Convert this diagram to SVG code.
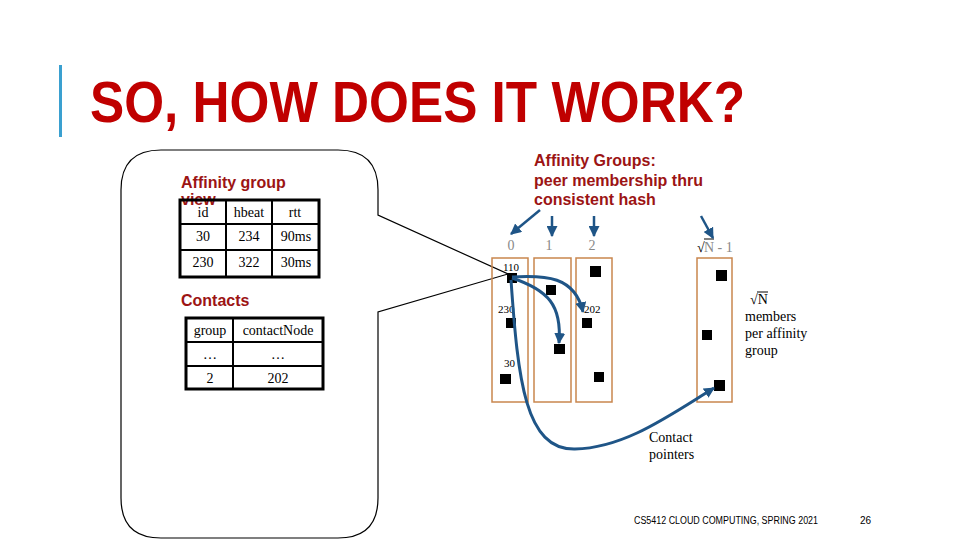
<svg xmlns="http://www.w3.org/2000/svg" width="960" height="540" viewBox="0 0 960 540">
<defs>
<marker id="ah" viewBox="0 0 10 10" refX="9" refY="5" markerWidth="11" markerHeight="11" markerUnits="userSpaceOnUse" orient="auto">
<path d="M0,0 L10,5 L0,10 Z" fill="#1F5587"/>
</marker>
<style>
.lbl{font-family:"Liberation Sans",Arial,sans-serif;font-weight:bold;font-size:16px;fill:#9C1414}
.cell{font-family:"Liberation Serif","Times New Roman",serif;font-size:14px;fill:#000;text-anchor:middle}
.tbl{fill:none;stroke:#000;stroke-width:3}
.tl{stroke:#000;stroke-width:2}
.grp{fill:none;stroke:#C9864E;stroke-width:1.5}
.sq{fill:#000}
.idx{font-family:"Liberation Serif","Times New Roman",serif;font-size:14px;fill:#888;text-anchor:middle}
.small{font-family:"Liberation Serif","Times New Roman",serif;font-size:11px;fill:#000}
.txt{font-family:"Liberation Serif","Times New Roman",serif;font-size:14px;fill:#000}
.arr{fill:none;stroke:#1F5587;stroke-width:3;marker-end:url(#ah)}
.arr2{fill:none;stroke:#1F5587;stroke-width:2.5;marker-end:url(#ah)}
</style>
</defs>
<rect width="960" height="540" fill="#fff"/>

<g id="title">
<rect x="59" y="65" width="3" height="72" fill="#3AA0D0"/>
<text x="90" y="122" font-family="'Liberation Sans',Arial,sans-serif" font-weight="bold" font-size="58" fill="#C00000" textLength="655" lengthAdjust="spacingAndGlyphs">SO, HOW DOES IT WORK?</text>
</g>

<g id="callout">
<path d="M161,150 H338 Q378,150 378,190 V215 L508,274 L378,312 V498 Q378,538 338,538 H161 Q121,538 121,498 V190 Q121,150 161,150 Z" fill="none" stroke="#000" stroke-width="1.2"/>
</g>

<g id="affinity-view">
<text class="lbl" x="181" y="188">Affinity group</text>
<text class="lbl" x="181" y="205">view</text>
<rect class="tbl" x="180" y="200" width="139" height="77"/>
<line class="tl" x1="180" y1="224" x2="319" y2="224"/>
<line class="tl" x1="180" y1="250" x2="319" y2="250"/>
<line class="tl" x1="226" y1="200" x2="226" y2="277"/>
<line class="tl" x1="272" y1="200" x2="272" y2="277"/>
<text class="cell" x="203" y="217">id</text>
<text class="cell" x="249" y="217">hbeat</text>
<text class="cell" x="295" y="217">rtt</text>
<text class="cell" x="203" y="241">30</text>
<text class="cell" x="249" y="241">234</text>
<text class="cell" x="296" y="241">90ms</text>
<text class="cell" x="203" y="267">230</text>
<text class="cell" x="249" y="267">322</text>
<text class="cell" x="296" y="267">30ms</text>
</g>

<g id="contacts">
<text class="lbl" x="181" y="306">Contacts</text>
<rect class="tbl" x="186" y="318" width="137" height="71"/>
<line class="tl" x1="186" y1="342" x2="323" y2="342"/>
<line class="tl" x1="186" y1="366" x2="323" y2="366"/>
<line class="tl" x1="233" y1="318" x2="233" y2="389"/>
<text class="cell" x="210" y="335">group</text>
<text class="cell" x="278" y="335">contactNode</text>
<text class="cell" x="210" y="359">…</text>
<text class="cell" x="278" y="359">…</text>
<text class="cell" x="210" y="383">2</text>
<text class="cell" x="278" y="383">202</text>
</g>

<g id="groups-label">
<text class="lbl" x="534" y="166">Affinity Groups:</text>
<text class="lbl" x="534" y="186">peer membership thru</text>
<text class="lbl" x="534" y="205">consistent hash</text>
</g>

<g id="group0">
<text class="idx" x="511" y="250">0</text>
<rect class="grp" x="492" y="258" width="36" height="144"/>
<rect class="sq" x="507" y="273" width="10" height="10"/>
<text class="small" x="503" y="271">110</text>
<rect class="sq" x="506" y="318" width="10" height="10"/>
<text class="small" x="498" y="313">230</text>
<rect class="sq" x="500" y="374" width="11" height="10"/>
<text class="small" x="504" y="367">30</text>
</g>

<g id="group1">
<text class="idx" x="549" y="250">1</text>
<rect class="grp" x="534" y="258" width="37" height="144"/>
<rect class="sq" x="546" y="285" width="10" height="10"/>
<rect class="sq" x="554" y="344" width="11" height="10"/>
</g>

<g id="group2">
<text class="idx" x="592" y="250">2</text>
<rect class="grp" x="576" y="258" width="36" height="144"/>
<rect class="sq" x="590" y="266" width="11" height="11"/>
<rect class="sq" x="582" y="318" width="10" height="10"/>
<text class="small" x="584" y="313">202</text>
<rect class="sq" x="594" y="372" width="10" height="10"/>
</g>

<g id="groupN">
<text x="697" y="252" font-family="'Liberation Serif','Times New Roman',serif" font-size="14" fill="#000">√</text>
<line x1="704" y1="239" x2="714" y2="239" stroke="#000" stroke-width="1"/>
<text x="704" y="252" font-family="'Liberation Serif','Times New Roman',serif" font-size="14" fill="#888">N - 1</text>
<rect class="grp" x="697" y="258" width="35" height="144"/>
<rect class="sq" x="716" y="270" width="11" height="11"/>
<rect class="sq" x="702" y="330" width="10" height="10"/>
<rect class="sq" x="714" y="380" width="11" height="11"/>
</g>

<g id="members-label">
<text class="txt" x="750" y="304">√N</text>
<line x1="757" y1="292" x2="768" y2="292" stroke="#000" stroke-width="1"/>
<text class="txt" x="745" y="321">members</text>
<text class="txt" x="745" y="338">per affinity</text>
<text class="txt" x="745" y="355">group</text>
</g>

<g id="contact-pointers-label">
<text class="txt" x="649" y="442">Contact</text>
<text class="txt" x="649" y="459">pointers</text>
</g>

<g id="connectors">
<line class="arr2" x1="540" y1="210" x2="511" y2="234"/>
<line class="arr2" x1="552" y1="216" x2="552" y2="236"/>
<line class="arr2" x1="594" y1="216" x2="594" y2="236"/>
<line class="arr2" x1="701" y1="216" x2="713" y2="238"/>
<path class="arr" d="M512,277 C545,275 575,276 583,312"/>
<path class="arr" d="M512,278 C548,290 562,305 559,343"/>
<path class="arr" d="M511,280 C518,380 525,450 575,449 C625,448 670,415 714,388"/>
</g>

<g id="footer">
<text x="634" y="524" font-family="'Liberation Sans',Arial,sans-serif" font-size="10" fill="#000" textLength="184" lengthAdjust="spacingAndGlyphs">CS5412 CLOUD COMPUTING, SPRING 2021</text>
<text x="860" y="524" font-family="'Liberation Sans',Arial,sans-serif" font-size="10" fill="#000">26</text>
</g>
</svg>
